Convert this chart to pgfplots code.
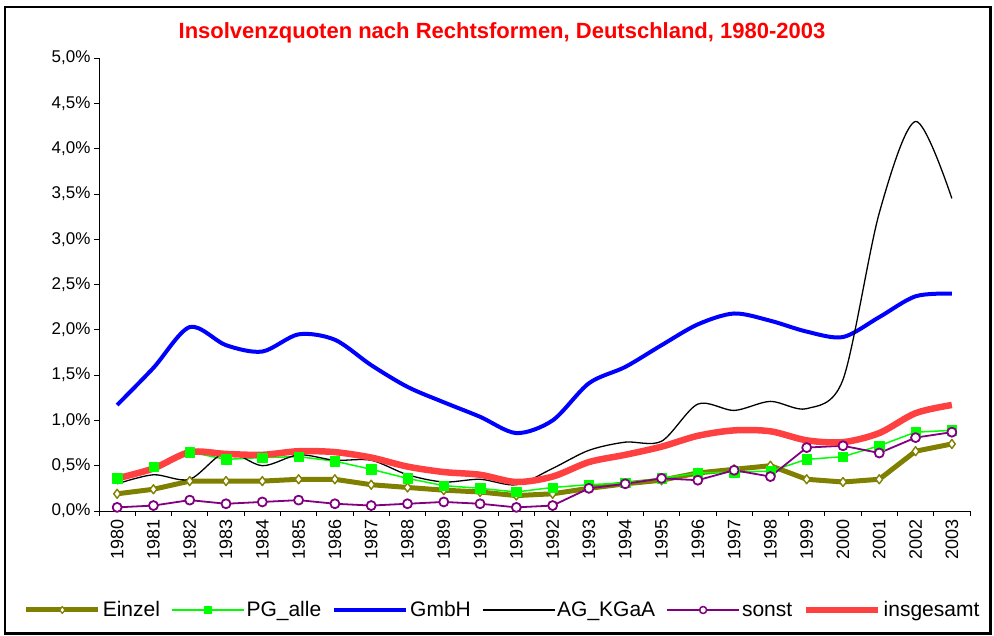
\documentclass[border=0pt]{standalone}
\usepackage{fontspec}
\setmainfont{Liberation Sans}
\usepackage{pgfplots}
\usepackage{pgfplotstable}
\pgfplotsset{compat=1.18}
\definecolor{olv}{RGB}{128,128,0}
\definecolor{grn}{RGB}{0,255,0}
\definecolor{blu}{RGB}{0,0,255}
\definecolor{pur}{RGB}{128,0,128}
\definecolor{rd}{RGB}{255,64,64}
\definecolor{ttl}{RGB}{255,0,0}

\pgfplotstableread{
yr Einzel PG GmbH AG sonst ins
0  0.19 0.36 1.17 0.30 0.04 0.36
1  0.24 0.49 1.58 0.40 0.06 0.47
2  0.33 0.65 2.03 0.35 0.12 0.65
3  0.33 0.57 1.83 0.65 0.08 0.63
4  0.33 0.59 1.76 0.50 0.10 0.62
5  0.35 0.60 1.95 0.62 0.12 0.66
6  0.35 0.55 1.89 0.56 0.08 0.65
7  0.29 0.46 1.61 0.56 0.06 0.59
8  0.26 0.36 1.37 0.40 0.08 0.49
9  0.23 0.28 1.20 0.32 0.10 0.43
10 0.21 0.25 1.04 0.35 0.08 0.40
11 0.17 0.21 0.86 0.29 0.04 0.32
12 0.19 0.26 1.00 0.47 0.06 0.38
13 0.25 0.29 1.41 0.67 0.25 0.54
14 0.30 0.31 1.59 0.76 0.30 0.62
15 0.34 0.36 1.83 0.77 0.36 0.71
16 0.42 0.42 2.06 1.18 0.34 0.83
17 0.46 0.43 2.18 1.11 0.45 0.89
18 0.50 0.44 2.10 1.21 0.38 0.88
19 0.35 0.57 1.98 1.13 0.70 0.78
20 0.32 0.60 1.92 1.45 0.72 0.76
21 0.35 0.72 2.14 3.29 0.64 0.86
22 0.66 0.87 2.37 4.30 0.81 1.08
23 0.74 0.89 2.40 3.45 0.87 1.17
}\data

\begin{document}
\begin{tikzpicture}
\useasboundingbox (0,0) rectangle (994pt,635pt);
\draw[line width=2.5pt] (5pt,1.5pt) rectangle (990.5pt,628pt);
\node[font=\bfseries\fontsize{22}{24}\selectfont, text=ttl] at (502pt,602pt) {Insolvenzquoten nach Rechtsformen, Deutschland, 1980-2003};
\begin{axis}[
  at={(99pt,124pt)}, anchor=south west,
  scale only axis, width=871pt, height=453pt,
  xmin=-0.5, xmax=23.5, ymin=0, ymax=5,
  axis x line*=bottom, axis y line*=left,
  axis line style={-, line width=0.8pt},
  tick align=outside,
  major tick length=5pt, minor tick length=5pt,
  tick style={black, line width=0.8pt},
  xtick={0,...,23},
  xticklabels={1980,1981,1982,1983,1984,1985,1986,1987,1988,1989,1990,1991,1992,1993,1994,1995,1996,1997,1998,1999,2000,2001,2002,2003},
  major x tick style={draw=none},
  minor xtick={-0.5,0.5,...,23.5},
  xticklabel style={rotate=90, anchor=east, font=\fontsize{18}{20}\selectfont},
  ytick={0,0.5,...,5},
  yticklabel={\pgfmathprintnumber[fixed,fixed zerofill,precision=1,use comma,assume math mode=true]{\tick}\%},
  yticklabel style={font=\fontsize{17}{19}\selectfont},
  legend columns=6,
  legend image code/.code={\draw[mark repeat=2,mark phase=2,#1] plot coordinates {(0pt,0pt) (36pt,0pt) (72pt,0pt)};},
  legend style={at={(axis description cs:-0.09,-0.2185)}, anchor=west, draw=none, fill=none,
    font=\fontsize{21}{23}\selectfont,
    /tikz/every even column/.append style={column sep=9pt}},
  line join=round,
]
% lines
\addplot[olv, line width=5pt, forget plot] table[x=yr,y=Einzel]{\data};
\addplot[grn, line width=1.5pt, forget plot] table[x=yr,y=PG]{\data};
\addplot[blu, line width=4pt, smooth, forget plot] table[x=yr,y=GmbH]{\data};
\addplot[black, line width=1.3pt, smooth, forget plot] table[x=yr,y=AG]{\data};
\addplot[pur, line width=1.8pt, forget plot] table[x=yr,y=sonst]{\data};
\addplot[rd, line width=6.5pt, smooth, forget plot] table[x=yr,y=ins]{\data};
% markers
\addplot[only marks, mark=diamond*, mark size=4.5pt, mark options={fill=white, draw=olv, line width=1.4pt}, forget plot] table[x=yr,y=Einzel]{\data};
\addplot[only marks, mark=square*, mark size=4.7pt, mark options={fill=grn, draw=grn}, forget plot] table[x=yr,y=PG]{\data};
\addplot[only marks, mark=*, mark size=4.5pt, mark options={fill=white, draw=pur, line width=1.8pt}, forget plot] table[x=yr,y=sonst]{\data};
% legend
\addlegendimage{olv, line width=5pt, mark=diamond*, mark size=3.5pt, mark options={fill=white, draw=olv, line width=1.2pt}}
\addlegendentry{Einzel}
\addlegendimage{grn, line width=1.5pt, mark=square*, mark size=3.5pt, mark options={fill=grn}}
\addlegendentry{PG\_alle}
\addlegendimage{blu, line width=4pt}
\addlegendentry{GmbH}
\addlegendimage{black, line width=1.3pt}
\addlegendentry{AG\_KGaA}
\addlegendimage{pur, line width=1.8pt, mark=*, mark size=3.5pt, mark options={fill=white, draw=pur, line width=1.5pt}}
\addlegendentry{sonst}
\addlegendimage{rd, line width=6.5pt}
\addlegendentry{insgesamt}
\end{axis}
\end{tikzpicture}
\end{document}
